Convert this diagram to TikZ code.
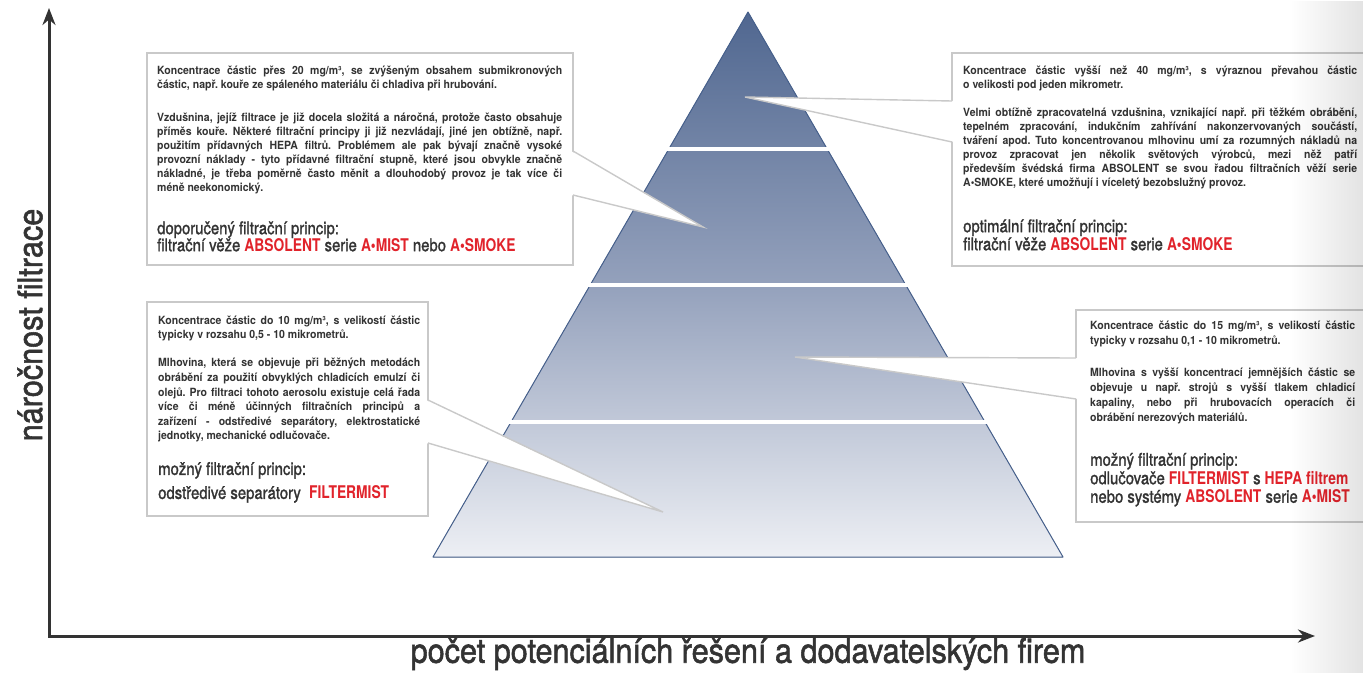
\documentclass[tikz,border=0pt]{standalone}
\usepackage{fontspec}
\setmainfont{TeX Gyre Heros}
\newfontfamily\bodyfont{TeX Gyre Heros}[FakeStretch=0.93]
\newfontfamily\headfont{TeX Gyre Heros}[FakeStretch=0.85, FakeBold=1.4]
\newfontfamily\headbrandfont{TeX Gyre Heros}[FakeStretch=0.79]
\newfontfamily\axisfont{TeX Gyre Heros}[FakeStretch=0.9, FakeBold=1.6]
\usetikzlibrary{arrows.meta, positioning, calc, fadings}

\definecolor{pyrtop}{HTML}{506790}
\definecolor{pyrmid}{HTML}{94A1BC}
\definecolor{pyrbot}{HTML}{EDEFF4}
\definecolor{pyredge}{HTML}{46608C}
\definecolor{boxline}{HTML}{C9C9C9}
\definecolor{darktext}{HTML}{333333}
\definecolor{brandred}{HTML}{E1232B}

\hyphenpenalty=10000
\exhyphenpenalty=10000
\frenchspacing
\setlength{\parindent}{0pt}

% red product names
\newcommand{\brand}[1]{{\bfseries\color{brandred}#1}}
\newcommand{\hbrand}[1]{{\headbrandfont\bfseries\color{brandred}#1}}
% heading of a box
\newcommand{\headsize}[1]{\raggedright\headfont\mdseries\fontsize{17.5}{#1}\selectfont}

\tikzfading[name=fade right, left color=transparent!100, right color=transparent!0]

\begin{document}
\begin{tikzpicture}[x=1pt, y=-1pt, >={Stealth[length=17pt,width=13pt]},
    infobox/.style={draw=boxline, line width=1.4pt, fill=white, anchor=north west, inner sep=0pt, outer sep=0pt},
    infotext/.style={anchor=north west, inner sep=0pt, align=justify, text=darktext},
    pointer/.style={draw=boxline, line width=1.4pt, line join=miter},
    axis/.style={draw=darktext, line width=3pt}]

    \useasboundingbox (0,0) rectangle (1363,673);
    \clip (0,0) rectangle (1363,673);

    % axes
    \coordinate (origin) at (49,636);
    \coordinate (ytip) at (49,8);
    \coordinate (xtip) at (1315,636);
    \draw[axis, <->] (ytip) -- (origin) -- (xtip);
    \node[rotate=90, font=\axisfont\fontsize{34}{36}\selectfont, text=darktext] (ylabel) at (30,325) {náročnost filtrace};
    \node[font=\axisfont\fontsize{34}{36}\selectfont, text=darktext] (xlabel) at (748,654) {počet potenciálních řešení a dodavatelských firem};

    % pyramid
    \coordinate (apex) at (748,12);
    \coordinate (baseL) at (433,557);
    \coordinate (baseR) at (1063,557);
    \fill[top color=pyrtop, bottom color=pyrbot, middle color=pyrmid] (apex) -- (baseL) -- (baseR) -- cycle;
    \draw[pyredge, line width=1pt, line join=round] (apex) -- (baseL) -- (baseR) -- cycle;
    \foreach \t in {0.2514, 0.5009, 0.7523}
      \draw[white, line width=3.5pt] ($(apex)!\t!(baseL)+(-4,0)$) -- ($(apex)!\t!(baseR)+(4,0)$);

    % top left
    \node[infobox, minimum width=426pt, minimum height=212pt] (tlbox) at (147,53) {};
    \coordinate (tltip) at (703,227);
    \fill[white] ($(tlbox.north east)+(-2,98)$) -- (tltip) -- ($(tlbox.north east)+(-2,142)$) -- cycle;
    \draw[pointer] ($(tlbox.north east)+(0,98)$) -- (tltip) -- ($(tlbox.north east)+(0,142)$);
    \node[infotext, text width=405pt, font=\bodyfont\bfseries\fontsize{11.3}{14}\selectfont] (tltext) at (157,65.5) {%
      Koncentrace částic přes 20 mg/m³, se zvýšeným obsahem submikronových\linebreak
      částic, např. kouře ze spáleného materiálu či chladiva při hrubování.\par
      \vspace{19pt}
      Vzdušnina, jejíž filtrace je již docela složitá a náročná, protože často obsahuje\linebreak
      příměs kouře. Některé filtrační principy ji již nezvládají, jiné jen obtížně, např.\linebreak
      použitím přídavných HEPA filtrů. Problémem ale pak bývají značně vysoké\linebreak
      provozní náklady - tyto přídavné filtrační stupně, které jsou obvykle značně\linebreak
      nákladné, je třeba poměrně často měnit a dlouhodobý provoz je tak více či\linebreak
      méně neekonomický.\par
      \vspace{26pt}
      {\headsize{17}doporučený filtrační princip:\\
      filtrační věže \hbrand{ABSOLENT} serie \hbrand{A•MIST} nebo \hbrand{A•SMOKE}\par}};

    % top right
    \node[infobox, minimum width=430pt, minimum height=213pt] (trbox) at (952,53) {};
    \coordinate (trtip) at (745,97);
    \fill[white] ($(trbox.north west)+(2,48)$) -- (trtip) -- ($(trbox.north west)+(2,89)$) -- cycle;
    \draw[pointer] ($(trbox.north west)+(0,48)$) -- (trtip) -- ($(trbox.north west)+(0,89)$);
    \node[infotext, text width=394pt, font=\bodyfont\bfseries\fontsize{11.3}{14}\selectfont] (trtext) at (963,65.5) {%
      Koncentrace částic vyšší než 40 mg/m³, s výraznou převahou částic\linebreak
      o velikosti pod jeden mikrometr.\par
      \vspace{14pt}
      Velmi obtížně zpracovatelná vzdušnina, vznikající např. při těžkém obrábění,\linebreak
      tepelném zpracování, indukčním zahřívání nakonzervovaných součástí,\linebreak
      tváření apod. Tuto koncentrovanou mlhovinu umí za rozumných nákladů na\linebreak
      provoz zpracovat jen několik světových výrobců, mezi něž patří\linebreak
      především švédská firma ABSOLENT se svou řadou filtračních věží serie\linebreak
      A•SMOKE, které umožňují i víceletý bezobslužný provoz.\par
      \vspace{28pt}
      {\headsize{18}optimální filtrační princip:\\
      filtrační věže \hbrand{ABSOLENT} serie \hbrand{A•SMOKE}\par}};

    % bottom left
    \node[infobox, minimum width=281pt, minimum height=214pt] (blbox) at (147,302) {};
    \coordinate (bltip) at (663,512);
    \fill[white] ($(blbox.north east)+(-2,98)$) -- (bltip) -- ($(blbox.north east)+(-2,141)$) -- cycle;
    \draw[pointer] ($(blbox.north east)+(0,98)$) -- (bltip) -- ($(blbox.north east)+(0,141)$);
    \node[infotext, text width=262pt, font=\bodyfont\bfseries\fontsize{11.3}{14.6}\selectfont] (bltext) at (158,315.5) {%
      Koncentrace částic do 10 mg/m³, s velikostí částic\linebreak
      typicky v rozsahu 0,5 - 10 mikrometrů.\par
      \vspace{13.5pt}
      Mlhovina, která se objevuje při běžných metodách\linebreak
      obrábění za použití obvyklých chladicích emulzí či\linebreak
      olejů. Pro filtraci tohoto aerosolu existuje celá řada\linebreak
      více či méně účinných filtračních principů a\linebreak
      zařízení - odstředivé separátory, elektrostatické\linebreak
      jednotky, mechanické odlučovače.\par
      \vspace{11pt}
      {\headsize{24}možný filtrační princip:\\
      odstředivé separátory \ \hbrand{FILTERMIST}\par}};

    % bottom right
    \node[infobox, minimum width=300pt, minimum height=212pt] (brbox) at (1076,310) {};
    \coordinate (brtip) at (795,357);
    \fill[white] ($(brbox.north west)+(2,48)$) -- (brtip) -- ($(brbox.north west)+(2,89)$) -- cycle;
    \draw[pointer] ($(brbox.north west)+(0,48)$) -- (brtip) -- ($(brbox.north west)+(0,89)$);
    \node[infotext, text width=265pt, font=\bodyfont\bfseries\fontsize{11.3}{15}\selectfont] (brtext) at (1090,320.5) {%
      Koncentrace částic do 15 mg/m³, s velikostí částic\linebreak
      typicky v rozsahu 0,1 - 10 mikrometrů.\par
      \vspace{17pt}
      Mlhovina s vyšší koncentrací jemnějších částic se\linebreak
      objevuje u např. strojů s vyšší tlakem chladicí\linebreak
      kapaliny, nebo při hrubovacích operacích či\linebreak
      obrábění nerezových materiálů.\par
      \vspace{26pt}
      {\headsize{18.5}možný filtrační princip:\\
      \mbox{odlučovače \hbrand{FILTERMIST} s \hbrand{HEPA filtrem}}\\
      \mbox{nebo systémy \hbrand{ABSOLENT} serie \hbrand{A•MIST}}\par}};

    % shadow along the right edge
    \fill[black, fill opacity=0.11, path fading=fade right] (1290,0) rectangle (1363,673);
\end{tikzpicture}
\end{document}
